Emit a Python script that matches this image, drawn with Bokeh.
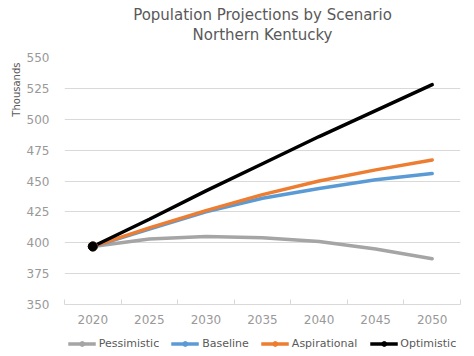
from bokeh.plotting import figure
from bokeh.layouts import column
from bokeh.models import (Range1d, FixedTicker, Legend, LegendItem, Title)
from bokeh.embed import file_html
from bokeh.resources import INLINE

years = [2020, 2025, 2030, 2035, 2040, 2045, 2050]
pessimistic = [397, 403, 405, 404, 401, 395, 387]
baseline = [397, 411, 425, 436, 444, 451, 456]
aspirational = [397, 412, 426, 439, 450, 459, 467]
optimistic = [397, 419, 442, 464, 486, 507, 528]
y_ticks = [350, 375, 400, 425, 450, 475, 500, 525, 550]

series = [
    ("Pessimistic", pessimistic, "#A5A5A5"),
    ("Baseline", baseline, "#5B9BD5"),
    ("Aspirational", aspirational, "#ED7D31"),
    ("Optimistic", optimistic, "#000000"),
]

FONT = "DejaVu Sans"
TXT = "#595959"
LBL = "#999999"
GRID = "#D9D9D9"

p = figure(width=474, height=330, output_backend="svg", toolbar_location=None,
           x_range=Range1d(2017.5, 2052.5), y_range=Range1d(350, 550),
           min_border_left=64, min_border_right=14, min_border_top=57,
           min_border_bottom=26, outline_line_color=None)

# titles (first added sits closest to the plot)
p.add_layout(Title(text=" ", text_font_size="1px", standoff=11), "above")
p.add_layout(Title(text="Northern Kentucky", align="center", text_font=FONT,
                   text_font_size="15px", text_color=TXT, text_font_style="normal",
                   standoff=0), "above")
p.add_layout(Title(text="Population Projections by Scenario", align="center",
                   text_font=FONT, text_font_size="15px", text_color=TXT,
                   text_font_style="normal", standoff=0), "above")

p.add_layout(Title(text="Thousands", align="right", text_font=FONT,
                   text_font_size="10px", text_color=TXT,
                   text_font_style="normal", standoff=4, offset=5), "left")

half = [y - 2.5 for y in years] + [years[-1] + 2.5]
p.xaxis.ticker = FixedTicker(ticks=years, minor_ticks=half)
p.xaxis.axis_line_color = GRID
p.xaxis.major_tick_line_color = None
p.xaxis.minor_tick_line_color = GRID
p.xaxis.minor_tick_in = 5
p.xaxis.minor_tick_out = 0
p.xaxis.major_label_text_font = FONT
p.xaxis.major_label_text_font_size = "12px"
p.xaxis.major_label_text_color = LBL
p.xaxis.major_label_standoff = 4

p.yaxis.ticker = FixedTicker(ticks=y_ticks)
p.yaxis.axis_line_color = None
p.yaxis.major_tick_line_color = None
p.yaxis.minor_tick_line_color = None
p.yaxis.major_label_text_font = FONT
p.yaxis.major_label_text_font_size = "12px"
p.yaxis.major_label_text_color = LBL
p.yaxis.major_label_standoff = 9

p.xgrid.grid_line_color = None
p.ygrid.grid_line_color = GRID
p.ygrid.grid_line_width = 1

for name, vals, color in series:
    p.line(years, vals, line_color=color, line_width=3.5, line_cap="round")
for name, vals, color in series:
    p.scatter([years[0]], [vals[0]], size=9, fill_color=color, line_color=color)

# legend strip below the chart
lg = figure(width=474, height=26, output_backend="svg", toolbar_location=None,
            x_range=Range1d(0, 1), y_range=Range1d(0, 1), outline_line_color=None,
            x_axis_location=None, y_axis_location=None,
            min_border_left=0, min_border_right=0, min_border_top=0,
            min_border_bottom=0)
lg.grid.grid_line_color = None

items = []
for name, vals, color in series:
    ln = lg.line(years, vals, line_color=color, line_width=3.5)
    sc = lg.scatter([years[0]], [vals[0]], size=9, fill_color=color, line_color=color)
    items.append(LegendItem(label=name, renderers=[ln, sc]))

legend = Legend(items=items, orientation="horizontal", location="center",
                label_text_font=FONT, label_text_font_size="11px",
                label_text_color=TXT, glyph_width=28, glyph_height=12,
                label_standoff=3, spacing=12, padding=0, margin=0,
                border_line_color=None, background_fill_alpha=0)
lg.add_layout(legend, "center")

layout = column(p, lg, spacing=0)
open("out.html", "w").write(file_html(layout, INLINE))
